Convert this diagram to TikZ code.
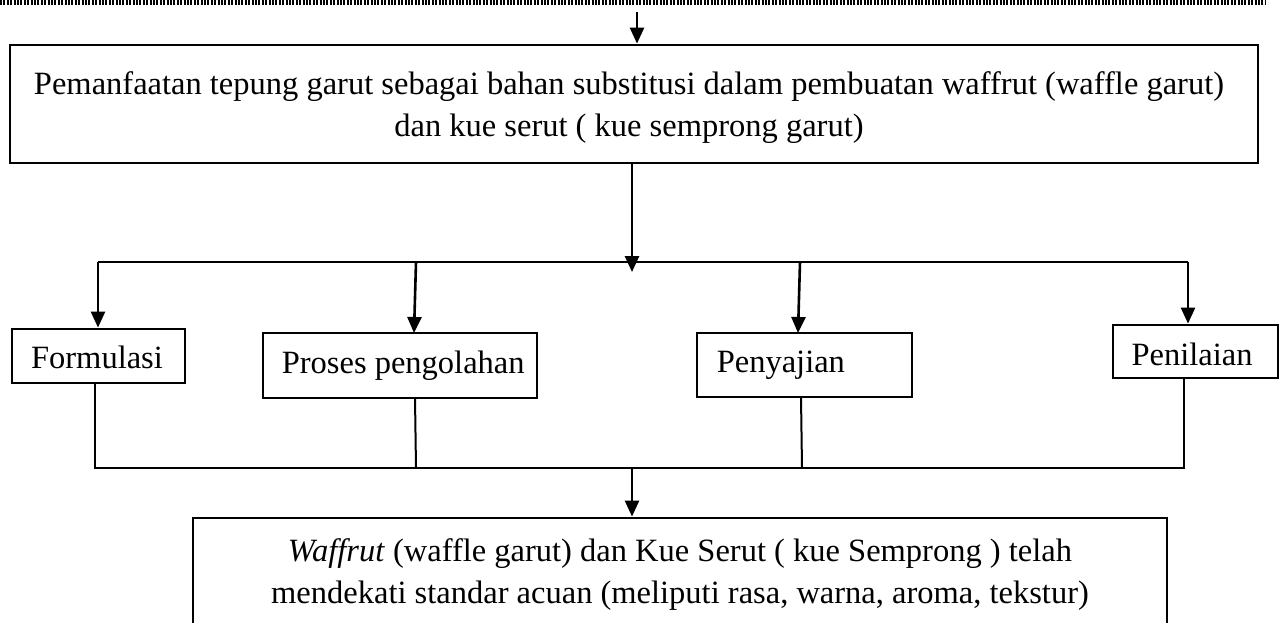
\documentclass[tikz,border=0pt]{standalone}
\usepackage{fontspec}
\setmainfont{Liberation Serif}
\usetikzlibrary{arrows.meta}
\tikzset{
  box/.style={draw, line width=2.8pt, inner sep=0pt},
  flow/.style={line width=2.6pt, -{Triangle[length=16pt,width=14pt]}},
  link/.style={line width=2pt},
  txt/.style={inner sep=0pt, font=\fontsize{32.5}{42}\selectfont},
}
\begin{document}
\begin{tikzpicture}[x=1pt,y=-1pt]
\useasboundingbox (0,0) rectangle (1287,622);
% dotted rule along the top edge
\draw[line width=4.5pt, dash pattern=on 2pt off 1.4pt] (0,2.5) -- (1266,2.5);
\coordinate (in) at (637,12);

% main topic
\node[box, minimum width=1248pt, minimum height=118pt] (top) at (634,104) {};
\node[txt, align=center] at ([xshift=-5pt,yshift=-4pt]top.center) {Pemanfaatan tepung garut sebagai bahan substitusi dalam pembuatan waffrut (waffle garut)\\dan kue serut ( kue semprong garut)};
\draw[flow] (in) -- (in |- top.north);

% four activity boxes
\node[box, minimum width=173pt, minimum height=54pt] (f) at (98.5,356) {};
\node[txt] at ([xshift=-1.5pt,yshift=-1pt]f.center) {Formulasi};
\node[box, minimum width=274pt, minimum height=65pt] (p) at (400,365.5) {};
\node[txt, anchor=west] at ([xshift=20pt]p.west) {Proses pengolahan};
\node[box, minimum width=215pt, minimum height=64pt] (s) at (804.5,365) {};
\node[txt, anchor=west] at ([xshift=21pt]s.west) {Penyajian};
\node[box, minimum width=165pt, minimum height=53pt] (n) at (1195.5,351.5) {};
\node[txt] at ([xshift=-3.5pt,yshift=-3pt]n.center) {Penilaian};

% distribution bar
\coordinate (dtop) at (632,163);
\coordinate (dbar) at (632,262);
\coordinate (dL) at (98,262);
\coordinate (dR) at (1188,262);
\draw[flow] (top.south -| dtop) -- ([yshift=-10pt]dbar);
\draw[line width=2.6pt] (dL) -- (dR);
\draw[flow] (dL) -- (dL |- f.north);
\draw[flow] (416,262) -- (414,333);
\draw[flow] (800,262) -- (798,333);
\draw[flow] (dR) -- (dR |- n.north);

% collecting bar
\coordinate (cL) at (95,468);
\coordinate (cR) at (1184,468);
\coordinate (cM) at (632,468);
\draw[link] (cL |- f.south) -- (cL) -- (cR) -- (cR |- n.south);
\draw[link] (415,398) -- (416,468);
\draw[link] (801,397) -- (802,468);

% conclusion
\node[box, minimum width=974pt, minimum height=110pt] (res) at (680,573) {};
\node[txt, align=center] at ([yshift=-2pt]res.center) {\textit{Waffrut} (waffle garut) dan Kue Serut ( kue Semprong ) telah\\mendekati standar acuan (meliputi rasa, warna, aroma, tekstur)};
\draw[flow] (cM) -- (cM |- res.north);
\end{tikzpicture}
\end{document}
